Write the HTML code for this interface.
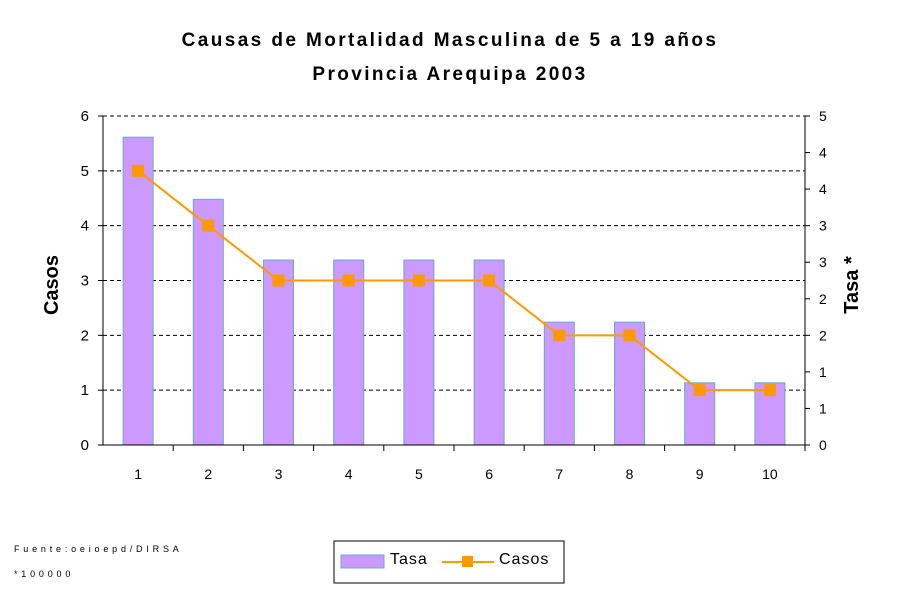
<!DOCTYPE html>
<html><head><meta charset="utf-8"><style>
body{margin:0;background:#fff;width:900px;height:600px;overflow:hidden;font-family:"Liberation Sans",Arial,sans-serif}
</style></head><body>
<svg id="chart" width="900" height="600" xmlns="http://www.w3.org/2000/svg" font-family="Liberation Sans, Arial, sans-serif">
<text x="450" y="46" text-anchor="middle" font-size="19" font-weight="bold" letter-spacing="2.4">Causas de Mortalidad Masculina de 5 a 19 años</text>
<text x="450" y="80" text-anchor="middle" font-size="19" font-weight="bold" letter-spacing="2.4">Provincia Arequipa 2003</text>
<text transform="translate(58,285) rotate(-90)" text-anchor="middle" font-size="20" font-weight="bold">Casos</text>
<text transform="translate(858,285) rotate(-90)" text-anchor="middle" font-size="20" font-weight="bold">Tasa *</text>
<g id="grid"></g><g id="bars"></g><g id="axes"></g><g id="line"></g>
<text x="14" y="552" font-size="9" letter-spacing="3.8">Fuente:oeioepd/DIRSA</text>
<text x="14" y="577" font-size="9" letter-spacing="3.8">*100000</text>
<g>
<rect x="334" y="541" width="230" height="42" fill="#fff" stroke="#000"/>
<rect x="341" y="555" width="43" height="13" fill="#cc99ff" stroke="#66aacc"/>
<text x="390" y="564" font-size="16" letter-spacing="1">Tasa</text>
<line x1="442" y1="562" x2="494" y2="562" stroke="#ff9900" stroke-width="2"/>
<rect x="462" y="556" width="11" height="11" fill="#ff9900"/>
<text x="499" y="564" font-size="16" letter-spacing="1">Casos</text>
</g>
</svg>
<script>
const categories=["1","2","3","4","5","6","7","8","9","10"];
const tasa=[4.21,3.36,2.53,2.53,2.53,2.53,1.68,1.68,0.85,0.85];
const casos=[5,4,3,3,3,3,2,2,1,1];
const leftTicks=[0,1,2,3,4,5,6];
const rightTicks=[0,0.5,1,1.5,2,2.5,3,3.5,4,4.5];
const rightLabels=["0","1","1","2","2","3","3","4","4","5"];
const NS="http://www.w3.org/2000/svg";
const X0=103,X1=805,Y0=445,Y1=116,LMAX=6,RMAX=4.5;
const cw=(X1-X0)/categories.length;
const xc=i=>X0+cw*(i+0.5);
const yL=v=>Y0-(v/LMAX)*(Y0-Y1);
const yR=v=>Y0-(v/RMAX)*(Y0-Y1);
function mk(tag,attrs,parent,txt){const e=document.createElementNS(NS,tag);for(const k in attrs)e.setAttribute(k,attrs[k]);if(txt!==undefined)e.textContent=txt;document.getElementById(parent).appendChild(e);return e;}
leftTicks.forEach(t=>{
 if(t>0){const g=mk('line',{x1:X0,x2:X1,y1:yL(t),y2:yL(t),stroke:'#000','stroke-dasharray':'4,3'},'grid');
 
 }
 const tx=mk('text',{x:X0-14,y:yL(t)+5,'text-anchor':'end','font-size':15},'axes',t);
 
 
 mk('line',{x1:X0-5,x2:X0,y1:yL(t),y2:yL(t),stroke:'#000'},'axes');
});
rightTicks.forEach((t,i)=>{
 const tx=mk('text',{x:X1+14,y:yR(t)+5,'font-size':14},'axes',rightLabels[i]);
 
 
 mk('line',{x1:X1,x2:X1+5,y1:yR(t),y2:yR(t),stroke:'#000'},'axes');
});
mk('line',{x1:X0,x2:X0,y1:Y1,y2:Y0,stroke:'#000'},'axes');
mk('line',{x1:X1,x2:X1,y1:Y1,y2:Y0,stroke:'#000'},'axes');
mk('line',{x1:X0,x2:X1,y1:Y0,y2:Y0,stroke:'#000'},'axes');
categories.forEach((c,i)=>{
 mk('line',{x1:X0+cw*(i+1),x2:X0+cw*(i+1),y1:Y0,y2:Y0+6,stroke:'#000'},'axes');
 const tx=mk('text',{x:xc(i),y:Y0+34,'text-anchor':'middle','font-size':14},'axes',c);
 
 
 const b=mk('rect',{x:xc(i)-15,y:yR(tasa[i]),width:30,height:Y0-yR(tasa[i]),fill:'#cc99ff',stroke:'#66aacc'},'bars');
 
 
});
const pl=mk('polyline',{points:casos.map((v,i)=>xc(i)+','+yL(v)).join(' '),fill:'none',stroke:'#ff9900','stroke-width':2},'line');


casos.forEach((v,i)=>{
 const m=mk('rect',{x:xc(i)-6,y:yL(v)-6,width:12,height:12,fill:'#ff9900'},'line');
 
 
});
</script>
</body></html>
